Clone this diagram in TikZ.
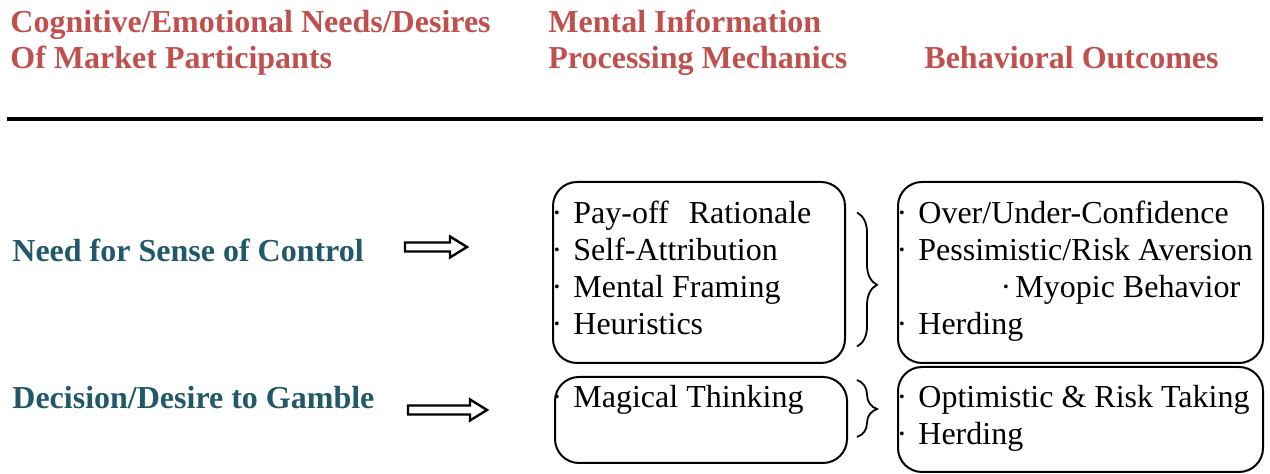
\documentclass[tikz,border=0pt]{standalone}
\usepackage{fontspec}
\setmainfont{Liberation Serif}
\usetikzlibrary{calc,fit,decorations.pathreplacing}
\definecolor{headred}{RGB}{192,80,77}
\definecolor{needteal}{RGB}{33,89,104}
% hollow block arrow between two named coordinates
\newcommand{\hollowarrow}[2]{%
  \draw[line width=1.2pt,line join=miter] ($(#1)+(0,-4.5)$) -- ($(#2)+(-17,-4.5)$) -- ($(#2)+(-17,-10.5)$)
    -- (#2) -- ($(#2)+(-17,10.5)$) -- ($(#2)+(-17,4.5)$) -- ($(#1)+(0,4.5)$) -- cycle;}
\tikzset{
  head/.style={anchor=base west,inner sep=0pt,text=headred,font=\fontsize{16}{18}\selectfont\bfseries},
  need/.style={anchor=base west,inner sep=0pt,text=needteal,font=\fontsize{16}{18}\selectfont\bfseries},
  item/.style={anchor=base west,inner sep=0pt,font=\fontsize{16}{18}\selectfont},
  dot/.style={anchor=base,inner sep=0pt,font=\fontsize{16}{18}\selectfont},
  box/.style={draw,line width=1pt,rounded corners=12pt,inner sep=0pt},
  curly/.style={decorate,decoration={brace,amplitude=10pt,aspect=#1},line width=0.9pt},
}
\begin{document}
\begin{tikzpicture}[x=0.5pt,y=-0.5pt]
\useasboundingbox (0,0) rectangle (1270,474);
% column headings
\node[head] (needA) at (10,33) {Cognitive/Emotional Needs/Desires};
\node[head] (needB) at (10,69) {Of Market Participants};
\node[head] (mechA) at (548,33) {Mental Information};
\node[head] (mechB) at (548,69) {Processing Mechanics};
\node[head] (outA) at (924,69) {Behavioral Outcomes};
\draw[line width=2pt] (7,119) -- (1263,119);
% needs
\node[need] (ctrl) at (12,262) {Need for Sense of Control};
\node[need] (gamble) at (12,409) {Decision/Desire to Gamble};
\coordinate (ctrlS) at (405,247);
\coordinate (ctrlE) at (467,247);
\coordinate (gambleS) at (408,410);
\coordinate (gambleE) at (487,410);
\hollowarrow{ctrlS}{ctrlE}
\hollowarrow{gambleS}{gambleE}
% boxes
\node[box,fit={(553,182) (845,363)}] (mech1) {};
\node[box,fit={(555,377) (847,463)}] (mech2) {};
\node[box,fit={(898,182) (1263,363)}] (out1) {};
\node[box,fit={(898,367) (1263,472)}] (out2) {};
% mechanics
\foreach \t [count=\i] in {Pay-off\hspace{10pt}Rationale,Self-Attribution,Mental Framing,Heuristics} {
  \node[dot] (mech1d\i) at (557,187+37*\i) {·};
  \node[item] (mech1t\i) at (573,187+37*\i) {\t};
}
\node[dot] (mech2d1) at (557,408) {·};
\node[item] (mech2t1) at (573,408) {Magical Thinking};
% outcomes
\node[dot] (out1d1) at (902,224) {·};
\node[item] (out1t1) at (918,224) {Over/Under-Confidence};
\node[dot] (out1d2) at (902,261) {·};
\node[item] (out1t2) at (918,261) {Pessimistic/Risk Aversion};
\node[dot] (out1d3) at (1006,298) {·};
\node[item] (out1t3) at (1015,298) {Myopic Behavior};
\node[dot] (out1d4) at (902,335) {·};
\node[item] (out1t4) at (918,335) {Herding};
\node[dot] (out2d1) at (902,408) {·};
\node[item] (out2t1) at (918,408) {Optimistic \& Risk Taking};
\node[dot] (out2d2) at (902,445) {·};
\node[item] (out2t2) at (918,445) {Herding};
% braces
\draw[curly=0.54] ($(mech1.east)+(11,-60)$) -- ($(mech1.east)+(11,74)$);
\draw[curly=0.51] ($(mech2.east)+(9,-40)$) -- ($(mech2.east)+(9,17)$);
\end{tikzpicture}
\end{document}
